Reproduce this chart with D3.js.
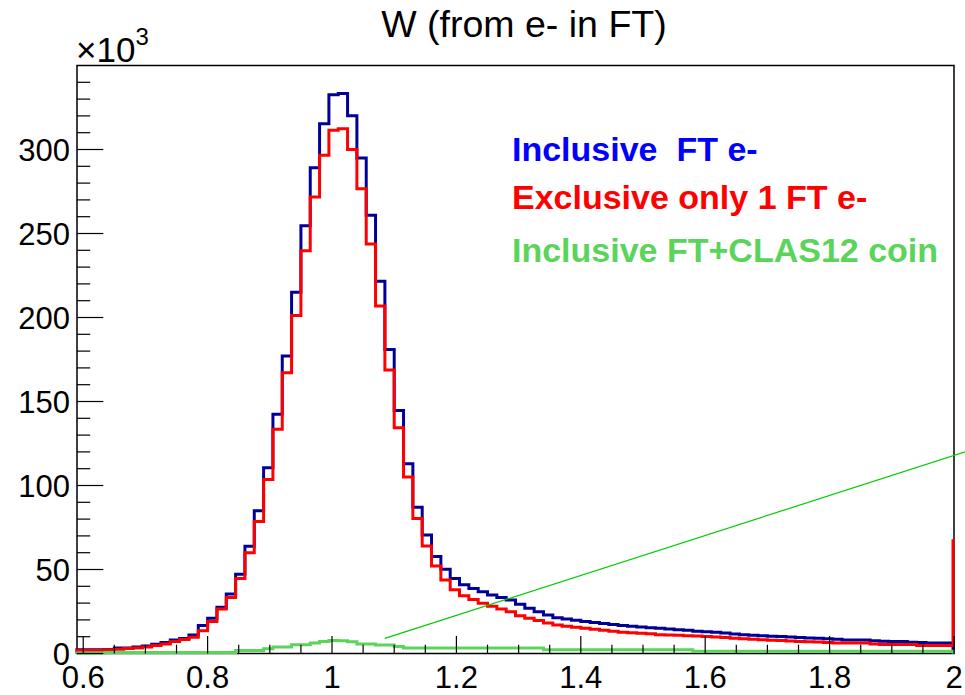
<!DOCTYPE html>
<html>
<head>
<meta charset="utf-8">
<script src="https://cdn.jsdelivr.net/npm/d3@7"></script>
<style>
  html, body { margin: 0; padding: 0; background: #fff; }
  text { font-family: "Liberation Sans", Arial, Helvetica, sans-serif; }
</style>
</head>
<body>
<div id="chart"></div>
<script>
// histogram binning: 94 bins of 0.015 starting at W = 0.59
const BIN_START = 0.59;
const BIN_WIDTH = 0.015;

// counts per bin, in units of 10^3
const inclusiveFT = [
  2.2, 2.2, 2.2, 2.4, 3.2, 3.2, 3.8, 4.5, 5.5, 6.5,
  8, 9, 11, 16.6, 21, 27.5, 35.4, 47.2, 63.8, 85,
  110.5, 142.4, 177.1, 215, 254.6, 289.1, 315.4, 332.6, 333.4, 320.1,
  295, 260.9, 221.6, 180.9, 144.6, 113, 87.1, 70.5, 57.7, 50.2,
  44.7, 40.9, 38.7, 36.7, 34.8, 33.4, 31.8, 29.3, 26.9, 24.9,
  22.9, 21.3, 20.6, 19.8, 19, 18.4, 17.8, 17.2, 16.6, 16.2,
  15.8, 15.4, 15, 14.6, 14.2, 13.8, 13.2, 13, 12.6, 12.2,
  11.6, 11.1, 10.8, 10.5, 10.2, 10.1, 9.8, 9.5, 9.3, 9.1,
  8.8, 8.5, 8.1, 8.1, 8.1, 7.6, 7.3, 7.1, 7.1, 6.7,
  6.5, 6.3, 6.3, 6.3
];

const exclusiveFT = [
  2, 2, 2, 2.2, 2.5, 3, 3.2, 3.8, 4.7, 5.7,
  7.1, 8.3, 9.7, 13.6, 19, 26.5, 33.4, 44.7, 60, 78.6,
  103.5, 133.5, 167.1, 201.2, 239.7, 271.7, 296.6, 311.4, 312.4, 300,
  276.7, 243.7, 206.8, 168.7, 134.4, 105, 80.4, 64, 52.1, 43.7,
  37.9, 34.4, 32.2, 29.9, 28.1, 26.5, 24.9, 22.5, 21, 19.6,
  18.2, 17, 16.2, 15.6, 15, 14.4, 13.8, 13.2, 12.7, 12.3,
  12, 11.8, 11.2, 11, 10.8, 10.6, 10.4, 10.1, 9.8, 9.5,
  9.1, 8.8, 8.5, 8.2, 7.9, 7.7, 7.5, 7.2, 7, 6.8,
  6.6, 6.3, 6.3, 6.3, 6.3, 5.6, 5.3, 5.3, 5.3, 5.3,
  4.7, 4.7, 4.7, 4.7
];
const exclusiveOverflow = 68; // next bin past W=2, clipped by the frame

const coinFT = [
  0.3, 0.3, 0.3, 0.6, 0.6, 0.6, 0.6, 0.6, 0.6, 0.6,
  0.6, 0.6, 0.6, 0.6, 0.6, 0.6, 0.6, 1.8, 1.8, 1.8,
  2.8, 3.8, 3.8, 5.2, 5.2, 6.2, 7.2, 7.7, 7.6, 7,
  5.7, 5.7, 5, 5, 4.2, 3.2, 3.2, 3.2, 3.2, 3.2,
  3.2, 3.2, 3.2, 3.2, 3.2, 3.2, 3.2, 3.2, 3.2, 3.2,
  2.3, 2.3, 2.3, 2.3, 2.3, 2.3, 2.3, 2.3, 2.3, 2.3,
  2.3, 2.3, 2.3, 2.3, 2.3, 2.3, 1.4, 1.4, 1.4, 1.4,
  1.4, 1.4, 1.4, 1.4, 1.4, 1.4, 1.4, 1.4, 1.4, 1.4,
  1.4, 1.4, 1.4, 1.4, 1.4, 1.4, 1.4, 1.4, 1.4, 1.4,
  1.4, 1.4, 1.4, 1.4
];

// straight green line (x in W, y in 10^3)
const lineW = [1.085, 2.018];
const lineCounts = [9, 120];

const xTicks = [0.6, 0.8, 1.0, 1.2, 1.4, 1.6, 1.8, 2.0];
const xTickLabels = ["0.6", "0.8", "1", "1.2", "1.4", "1.6", "1.8", "2"];
const yTicks = [0, 50, 100, 150, 200, 250, 300];

const legendLabels = ["Inclusive  FT e-", "Exclusive only 1 FT e-", "Inclusive FT+CLAS12 coin"];

// ---- layout ----
const width = 965;
const height = 695;
const FRAME_LEFT = 77, FRAME_RIGHT = 954, FRAME_TOP = 65.5, FRAME_BOTTOM = 653.5;

const BLUE_LINE = "#000099";
const RED_LINE = "#ff0000";
const GREEN_HIST = "#5ad45a";

const svg = d3.select("#chart").append("svg")
  .attr("width", width)
  .attr("height", height);

const x = d3.scaleLinear().domain([BIN_START, 2.0]).range([FRAME_LEFT, FRAME_RIGHT]);
const y = d3.scaleLinear().domain([0, 350]).range([FRAME_BOTTOM, FRAME_TOP]);

svg.append("clipPath").attr("id", "frameClip")
  .append("rect")
  .attr("x", FRAME_LEFT - 2).attr("y", FRAME_TOP)
  .attr("width", FRAME_RIGHT - FRAME_LEFT + 3)
  .attr("height", FRAME_BOTTOM - FRAME_TOP + 2);

// frame first, histograms are drawn on top of it
svg.append("rect")
  .attr("x", FRAME_LEFT).attr("y", FRAME_TOP)
  .attr("width", FRAME_RIGHT - FRAME_LEFT)
  .attr("height", FRAME_BOTTOM - FRAME_TOP)
  .attr("fill", "none")
  .attr("stroke", "#000")
  .attr("stroke-width", 1.5);

// step outline of a histogram, from baseline to baseline
function histPoints(values, endValue) {
  const pts = [[x(BIN_START), y(0)]];
  values.forEach((v, i) => {
    const lo = BIN_START + i * BIN_WIDTH;
    pts.push([x(lo), y(v)]);
    pts.push([x(lo + BIN_WIDTH) - (i === values.length - 1 ? 1 : 0), y(v)]);
  });
  const last = BIN_START + values.length * BIN_WIDTH;
  pts.push([x(last) - 1, y(endValue)]);
  return pts;
}

const line = d3.line();

const histGroup = svg.append("g").attr("clip-path", "url(#frameClip)");

histGroup.append("path")
  .attr("d", line(histPoints(inclusiveFT, 0)))
  .attr("fill", "none")
  .attr("stroke", BLUE_LINE)
  .attr("stroke-width", 3);

histGroup.append("path")
  .attr("d", line(histPoints(exclusiveFT, exclusiveOverflow)))
  .attr("fill", "none")
  .attr("stroke", RED_LINE)
  .attr("stroke-width", 3);

histGroup.append("path")
  .attr("d", line(histPoints(coinFT, 0)))
  .attr("fill", "none")
  .attr("stroke", GREEN_HIST)
  .attr("stroke-width", 3);

// x axis ticks (ROOT style, pointing inward)
const xMinor = d3.range(0.6, 2.0001, 0.05);
svg.append("g").selectAll("line")
  .data(xMinor)
  .enter()
  .append("line")
  .attr("x1", (d) => x(d)).attr("x2", (d) => x(d))
  .attr("y1", FRAME_BOTTOM)
  .attr("y2", (d) => FRAME_BOTTOM - (Math.abs(d * 5 - Math.round(d * 5)) < 1e-6 ? 17.6 : 8.8))
  .attr("stroke", "#000")
  .attr("stroke-width", 1.2);

svg.append("g").selectAll("text")
  .data(xTicks)
  .enter()
  .append("text")
  .attr("x", (d) => x(d))
  .attr("y", 688)
  .attr("text-anchor", "middle")
  .style("font-size", "31px")
  .text((d, i) => xTickLabels[i]);

// y axis ticks
const yMinor = d3.range(0, 341, 10);
svg.append("g").selectAll("line")
  .data(yMinor)
  .enter()
  .append("line")
  .attr("x1", FRAME_LEFT)
  .attr("x2", (d) => FRAME_LEFT + (d % 50 === 0 ? 26.3 : 13.2))
  .attr("y1", (d) => y(d)).attr("y2", (d) => y(d))
  .attr("stroke", "#000")
  .attr("stroke-width", 1.2);

svg.append("g").selectAll("text")
  .data(yTicks)
  .enter()
  .append("text")
  .attr("x", 70)
  .attr("y", (d) => y(d) + 11)
  .attr("text-anchor", "end")
  .style("font-size", "31px")
  .text((d) => d);

// x10^3 multiplier
const mult = svg.append("text")
  .attr("x", 76)
  .attr("y", 62)
  .style("font-size", "35px");
mult.append("tspan").text("\u00d710");
mult.append("tspan").attr("dy", -17).style("font-size", "24px").text("3");

// title
svg.append("text")
  .attr("x", 524)
  .attr("y", 37)
  .attr("text-anchor", "middle")
  .style("font-size", "37.5px")
  .text("W (from e- in FT)");

// green straight line (drawn over everything, not clipped)
svg.append("line")
  .attr("x1", x(lineW[0])).attr("y1", y(lineCounts[0]))
  .attr("x2", x(lineW[1])).attr("y2", y(lineCounts[1]))
  .attr("stroke", "#00cc00")
  .attr("stroke-width", 1.2);

// legend texts
const legendColors = ["#0000ff", "#ff0000", GREEN_HIST];
const legendY = [161, 209, 262];
svg.append("g").selectAll("text")
  .data(legendLabels)
  .enter()
  .append("text")
  .attr("x", 512)
  .attr("y", (d, i) => legendY[i])
  .attr("fill", (d, i) => legendColors[i])
  .style("font-size", "34px")
  .style("font-weight", "bold")
  .style("white-space", "pre")
  .attr("xml:space", "preserve")
  .text((d) => d);
</script>
</body>
</html>
